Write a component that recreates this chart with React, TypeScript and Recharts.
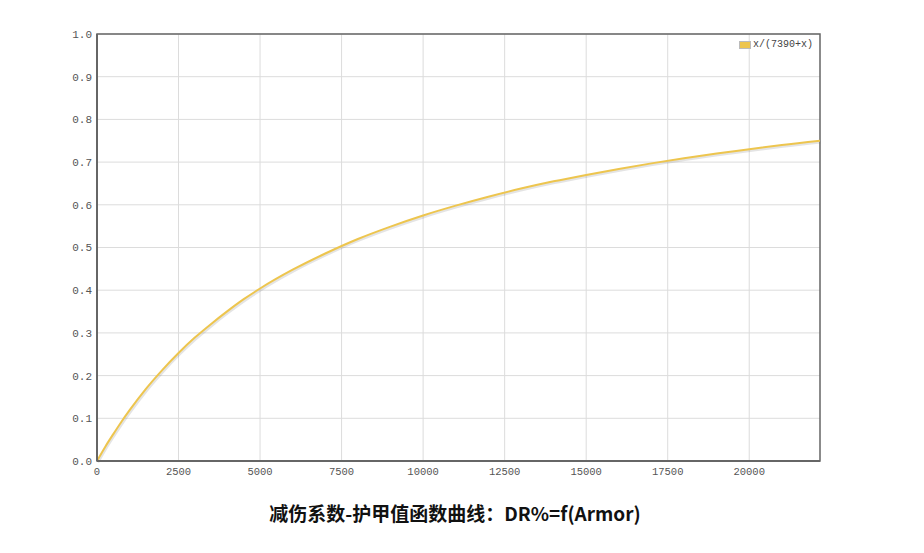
import React from "react";
import {
  LineChart,
  Line,
  XAxis,
  YAxis,
  CartesianGrid,
  ReferenceArea,
} from "recharts";

// armor values and the damage-reduction
const armor: number[] = [
  0, 250, 500, 750, 1000, 1500, 2000, 2500, 3000, 3500, 4000, 4500, 5000, 6000,
  7000, 8000, 9000, 10000, 11000, 12000, 13000, 14000, 15000, 16000, 17000,
  18000, 19000, 20000, 21000, 22170,
];
const reduction: number[] = [
  0, 0.033, 0.063, 0.092, 0.119, 0.169, 0.213, 0.253, 0.289, 0.321, 0.351,
  0.379, 0.404, 0.448, 0.486, 0.52, 0.549, 0.575, 0.598, 0.619, 0.638, 0.655,
  0.67, 0.684, 0.697, 0.709, 0.72, 0.73, 0.74, 0.75,
];
const xTicks: number[] = [0, 2500, 5000, 7500, 10000, 12500, 15000, 17500, 20000];
const yTicks: number[] = [0, 0.1, 0.2, 0.3, 0.4, 0.5, 0.6, 0.7, 0.8, 0.9, 1.0];
const xMax = 22170;
const seriesName = "x/(7390+x)";
const title = "减伤系数-护甲值函数曲线：DR%=f(Armor)";

const data = armor.map((a, i) => ({ armor: a, dr: reduction[i] }));

const App: React.FC = () => {
  return (
    <div style={styles.page}>
      <LineChart
        width={924}
        height={553}
        data={data}
        margin={{ top: 34, right: 104, left: 0, bottom: 62 }}
      >
        <CartesianGrid stroke="#dcdcdc" verticalValues={xTicks} horizontalValues={yTicks} />
        <XAxis
          dataKey="armor"
          type="number"
          domain={[0, xMax]}
          ticks={xTicks}
          height={30}
          tickSize={0}
          tickMargin={7}
          axisLine={{ stroke: "#666", strokeWidth: 2 }}
          tick={{ fill: "#555", fontSize: 10.5, fontFamily: "Liberation Mono" }}
          allowDataOverflow
        />
        <YAxis
          type="number"
          domain={[0, 1]}
          ticks={yTicks}
          width={97}
          tickSize={0}
          tickMargin={5}
          axisLine={{ stroke: "#666", strokeWidth: 2 }}
          tick={{ fill: "#555", fontSize: 11, fontFamily: "Liberation Mono" }}
          tickFormatter={(v: number) => v.toFixed(1)}
        />
        <ReferenceArea
          x1={0}
          x2={xMax}
          y1={0}
          y2={1}
          fill="none"
          stroke="#666"
          strokeWidth={1.5}
          fillOpacity={0}
        />
        <Line
          type="monotone"
          dataKey="dr"
          stroke="rgba(120,120,120,0.2)"
          strokeWidth={2.5}
          dot={false}
          isAnimationActive={false}
          style={{ transform: "translate(1px, 1.5px)" }}
        />
        <Line
          type="monotone"
          dataKey="dr"
          name={seriesName}
          stroke="#edc54e"
          strokeWidth={2}
          dot={false}
          isAnimationActive={false}
        />
      </LineChart>

      {/* legend */}
      <div style={styles.legend}>
        <span style={styles.swatch} />
        <span>{seriesName}</span>
      </div>

      <div style={styles.title}>{title}</div>
    </div>
  );
};

const styles: { [key: string]: React.CSSProperties } = {
  page: {
    position: "absolute",
    left: 0,
    top: 0,
    width: 924,
    height: 553,
    background: "#fff",
  },
  legend: {
    position: "absolute",
    left: 739,
    top: 39,
    display: "flex",
    alignItems: "center",
    gap: 2,
    fontFamily: "Liberation Mono",
    fontSize: 10,
    color: "#444",
  },
  swatch: {
    display: "inline-block",
    width: 10,
    height: 6,
    background: "#edc54e",
    border: "1px solid #bbb",
  },
  title: {
    position: "absolute",
    left: 0,
    width: 910,
    top: 499,
    textAlign: "center",
    fontFamily: "Noto Sans CJK SC",
    fontWeight: "bold",
    fontSize: 19,
    color: "#111",
  },
};

export default App;
